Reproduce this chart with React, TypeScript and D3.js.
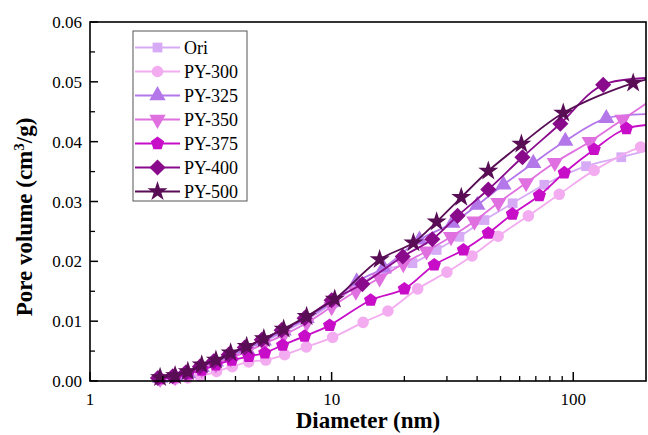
import React from 'react';
import * as d3 from 'd3';

// ---- data (diameter nm, pore volume cm3/g) ----
const labels = ['Ori', 'PY-300', 'PY-325', 'PY-350', 'PY-375', 'PY-400', 'PY-500'];
const colors = ['#d7aaf6', '#f2acef', '#b477ea', '#e070df', '#c80dc9', '#8a0a8c', '#580d55'];

const diamOri = [1.95, 2.25, 2.54, 2.90, 3.32, 3.82, 4.45, 5.24, 6.33, 7.88, 10.1, 13.1, 16.9, 21.6, 27.2, 33.8, 42.9, 56.1, 75.9, 113, 158, 260];
const volOri = [0.0004, 0.0007, 0.0013, 0.0022, 0.0031, 0.0041, 0.0053, 0.0066, 0.0082, 0.0102, 0.0130, 0.0162, 0.0187, 0.0197, 0.0219, 0.0241, 0.0269, 0.0297, 0.0328, 0.0359, 0.0374, 0.0397];

const diam300 = [1.95, 2.25, 2.54, 2.85, 3.34, 3.88, 4.54, 5.34, 6.39, 7.86, 10.1, 13.5, 17.1, 22.7, 30.0, 38.1, 48.9, 65.2, 87.5, 122, 190, 260];
const vol300 = [0.0002, 0.0003, 0.0005, 0.0008, 0.0016, 0.0024, 0.0032, 0.0035, 0.0044, 0.0057, 0.0073, 0.0098, 0.0117, 0.0154, 0.0182, 0.0209, 0.0242, 0.0276, 0.0312, 0.0352, 0.0391, 0.0400];

const diam325 = [1.95, 2.25, 2.54, 2.90, 3.32, 3.82, 4.45, 5.24, 6.33, 7.88, 10.1, 12.7, 16.4, 23.1, 31.6, 40.1, 51.4, 68.3, 92.7, 137, 260];
const vol325 = [0.0005, 0.0008, 0.0013, 0.0023, 0.0032, 0.0042, 0.0054, 0.0067, 0.0084, 0.0105, 0.0132, 0.0166, 0.0189, 0.0236, 0.0264, 0.0294, 0.0328, 0.0364, 0.0401, 0.0439, 0.0446];

const diam350 = [1.95, 2.25, 2.54, 2.90, 3.32, 3.82, 4.45, 5.24, 6.33, 7.88, 10.0, 12.6, 15.8, 19.8, 24.7, 31.2, 39.0, 49.0, 63.8, 83.9, 117, 160, 230];
const vol350 = [0.0004, 0.0007, 0.0012, 0.0020, 0.0028, 0.0038, 0.0049, 0.0062, 0.0077, 0.0097, 0.0124, 0.0150, 0.0172, 0.0196, 0.0217, 0.0241, 0.0267, 0.0298, 0.0331, 0.0365, 0.0400, 0.0437, 0.0480];

const diam375 = [1.95, 2.25, 2.54, 2.90, 3.32, 3.86, 4.54, 5.29, 6.27, 7.73, 9.81, 14.5, 20.0, 26.6, 35.1, 44.5, 56.0, 72.4, 91.8, 122, 166, 260];
const vol375 = [0.0004, 0.0007, 0.0012, 0.0018, 0.0027, 0.0035, 0.0041, 0.0047, 0.0060, 0.0075, 0.0093, 0.0135, 0.0154, 0.0194, 0.0219, 0.0247, 0.0279, 0.0310, 0.0348, 0.0387, 0.0422, 0.0430];

const diam400 = [1.91, 2.20, 2.49, 2.85, 3.25, 3.75, 4.37, 5.14, 6.21, 7.73, 10.0, 13.4, 19.7, 26.1, 33.2, 44.5, 61.6, 88.4, 133, 260];
const vol400 = [0.0005, 0.0008, 0.0014, 0.0024, 0.0033, 0.0044, 0.0056, 0.0069, 0.0085, 0.0105, 0.0135, 0.0162, 0.0208, 0.0237, 0.0276, 0.0320, 0.0374, 0.0430, 0.0495, 0.0507];

const diam500 = [1.95, 2.25, 2.54, 2.90, 3.32, 3.82, 4.45, 5.24, 6.33, 7.88, 10.3, 15.8, 21.8, 27.2, 34.4, 44.5, 61.0, 90.9, 177, 260];
const vol500 = [0.0006, 0.0009, 0.0016, 0.0027, 0.0035, 0.0047, 0.0058, 0.0071, 0.0087, 0.0108, 0.0137, 0.0203, 0.0231, 0.0266, 0.0307, 0.0351, 0.0396, 0.0448, 0.0498, 0.0512];

const xMajor = [1, 10, 100];
const xMinor = [2, 3, 4, 5, 6, 7, 8, 9, 20, 30, 40, 50, 60, 70, 80, 90];
const yMajor = [0, 0.01, 0.02, 0.03, 0.04, 0.05, 0.06];
const yMinor = [0.005, 0.015, 0.025, 0.035, 0.045, 0.055];

const diams = [diamOri, diam300, diam325, diam350, diam375, diam400, diam500];
const vols = [volOri, vol300, vol325, vol350, vol375, vol400, vol500];

// ---- custom symbols ----
const pentagon = {
  draw(ctx: any, size: number) {
    const r = Math.sqrt(size / 2.378);
    for (let i = 0; i < 5; i++) {
      const a = -Math.PI / 2 + (i * 2 * Math.PI) / 5;
      const px = r * Math.cos(a), py = r * Math.sin(a);
      if (i === 0) ctx.moveTo(px, py); else ctx.lineTo(px, py);
    }
    ctx.closePath();
  },
};
const diamondSq = {
  draw(ctx: any, size: number) {
    const r = Math.sqrt(size / 2);
    ctx.moveTo(0, -r); ctx.lineTo(r, 0); ctx.lineTo(0, r); ctx.lineTo(-r, 0); ctx.closePath();
  },
};
const triDown = {
  draw(ctx: any, size: number) {
    const s = Math.sqrt(size / (Math.sqrt(3) / 4));
    const h = (s * Math.sqrt(3)) / 2;
    ctx.moveTo(-s / 2, -h / 3); ctx.lineTo(s / 2, -h / 3); ctx.lineTo(0, (2 * h) / 3); ctx.closePath();
  },
};
const triUp = {
  draw(ctx: any, size: number) {
    const s = Math.sqrt(size / (Math.sqrt(3) / 4));
    const h = (s * Math.sqrt(3)) / 2;
    ctx.moveTo(-s / 2, h / 3); ctx.lineTo(s / 2, h / 3); ctx.lineTo(0, (-2 * h) / 3); ctx.closePath();
  },
};

const symbolTypes: any[] = [d3.symbolSquare, d3.symbolCircle, triUp, triDown, pentagon, diamondSq, d3.symbolStar];
const symbolSizes = [95, 105, 115, 115, 115, 130, 125];

const W = 648, H = 435;
const L = 90, R = 646, T = 22, B = 381;
const FONT = '"Liberation Serif", "Times New Roman", serif';

export default function App() {
  const x = d3.scaleLog().domain([1, 200]).range([L, R]);
  const y = d3.scaleLinear().domain([0, 0.06]).range([B, T]);
  const line = d3
    .line<[number, number]>()
    .x((d) => x(d[0]))
    .y((d) => y(d[1]))
    .curve(d3.curveCatmullRom.alpha(0.5));

  const series = labels.map((name, i) => ({
    name,
    color: colors[i],
    pts: diams[i].map((d, j) => [d, vols[i][j]] as [number, number]),
    sym: d3.symbol().type(symbolTypes[i]).size(symbolSizes[i])() as string,
  }));

  const legX0 = 133, legY0 = 31, legW = 114, legH = 170, rowH = 24;

  return (
    <svg width={W} height={H} style={{ position: 'absolute', left: 0, top: 0, background: '#fff' }} fontFamily={FONT}>
      <defs>
        <clipPath id="plotclip">
          <rect x={L} y={T - 8} width={R - L} height={B - T + 16} />
        </clipPath>
      </defs>
      <rect x={0} y={0} width={W} height={H} fill="#fff" />

      {/* series */}
      <g clipPath="url(#plotclip)">
        {series.map((s) => (
          <g key={s.name}>
            <path d={line(s.pts) as string} fill="none" stroke={s.color} strokeWidth={1.8} />
            {s.pts.map((p, j) => (
              <path key={j} d={s.sym} transform={`translate(${x(p[0])},${y(p[1])})`} fill={s.color} stroke="none" />
            ))}
          </g>
        ))}
      </g>

      {/* frame */}
      <rect x={L} y={T} width={R - L} height={B - T} fill="none" stroke="#000" strokeWidth={1.6} />

      {/* x ticks */}
      {xMajor.map((v) => (
        <g key={'xM' + v}>
          <line x1={x(v)} x2={x(v)} y1={B} y2={B - 9} stroke="#000" strokeWidth={1.5} />
          <text x={x(v)} y={405} textAnchor="middle" fontSize={17}>{String(v)}</text>
        </g>
      ))}
      {xMinor.map((v) => (
        <line key={'xm' + v} x1={x(v)} x2={x(v)} y1={B} y2={B - 5} stroke="#000" strokeWidth={1.3} />
      ))}

      {/* y ticks */}
      {yMajor.map((v) => (
        <g key={'yM' + v}>
          <line x1={L} x2={L + 8} y1={y(v)} y2={y(v)} stroke="#000" strokeWidth={1.5} />
          <text x={82} y={y(v) + 6} textAnchor="end" fontSize={17}>{v.toFixed(2)}</text>
        </g>
      ))}
      {yMinor.map((v) => (
        <line key={'ym' + v} x1={L} x2={L + 5} y1={y(v)} y2={y(v)} stroke="#000" strokeWidth={1.3} />
      ))}

      {/* axis titles */}
      <text x={(L + R) / 2} y={428} textAnchor="middle" fontSize={23} fontWeight="bold">Diameter (nm)</text>
      <text transform={`translate(32,${217}) rotate(-90)`} textAnchor="middle" fontSize={23} fontWeight="bold">
        Pore volume (cm<tspan dy={-8} fontSize={15}>3</tspan><tspan dy={8}>/g)</tspan>
      </text>

      {/* legend */}
      <rect x={legX0} y={legY0} width={legW} height={legH} fill="#fff" stroke="#555" strokeWidth={1} />
      {series.map((s, i) => {
        const cy = legY0 + 16.5 + i * rowH;
        return (
          <g key={'lg' + s.name}>
            <line x1={135} x2={180} y1={cy} y2={cy} stroke={s.color} strokeWidth={1.8} />
            <path d={s.sym} transform={`translate(157.5,${cy})`} fill={s.color} />
            <text x={184} y={cy + 6} fontSize={18}>{s.name}</text>
          </g>
        );
      })}
    </svg>
  );
}
